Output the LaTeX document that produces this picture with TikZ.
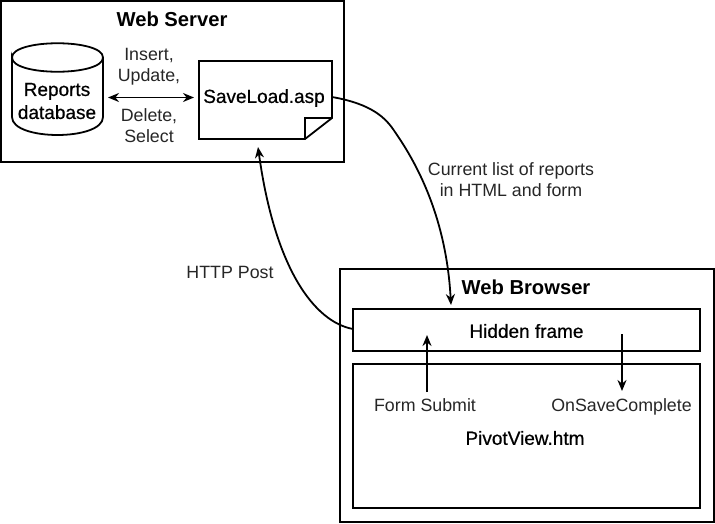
\documentclass[tikz,border=0pt]{standalone}
\usepackage{fontspec}
\setmainfont{Liberation Sans}
\usetikzlibrary{arrows.meta,positioning}
\tikzset{
  box/.style={draw=black,line width=1.8pt,inner sep=0pt,outer sep=0pt,fill=none},
  lbl/.style={inner sep=0pt,font=\fontsize{17.8}{20}\selectfont,text=black!85,align=center},
  blbl/.style={inner sep=0pt,font=\fontsize{20.2}{22}\selectfont\bfseries,align=center,text=black},
  mlbl/.style={inner sep=0pt,font=\fontsize{19}{22}\selectfont\addfontfeature{FakeBold=0.6},align=center,text=black},
  conn/.style={line width=1.8pt,-{Stealth[length=11pt,width=9pt]}},
  conn2/.style={line width=1.8pt,{Stealth[length=11pt,width=9pt]}-{Stealth[length=11pt,width=9pt]}},
}
\begin{document}
\begin{tikzpicture}[x=1pt,y=-1pt]
\useasboundingbox (0,0) rectangle (715,523);
% outer boxes
\node[box,minimum width=343pt,minimum height=161pt] (server) at (172.5,81.5) {};
\node[box,minimum width=374pt,minimum height=253pt] (browser) at (527,395.5) {};
\node[box,minimum width=347pt,minimum height=42pt] (hidden) at (526.5,330) {};
\node[box,minimum width=347pt,minimum height=144pt] (pivot) at (526.5,436) {};
% cylinder
\node[minimum width=91pt,minimum height=94pt,inner sep=0pt,outer sep=0pt] (db) at (57.5,89) {};
\draw[line width=1.8pt] (12,57.5) .. controls (12,38.5) and (103,38.5) .. (103,57.5)
   .. controls (103,76.5) and (12,76.5) .. (12,57.5) -- (12,117)
   .. controls (12,141) and (103,141) .. (103,117) -- (103,57.5);
% document
\node[minimum width=133pt,minimum height=78pt,inner sep=0pt,outer sep=0pt] (doc) at (265.5,100) {};
\draw[line width=1.8pt,line join=miter] (199,61) -- (332,61) -- (332,118) -- (305,139) -- (199,139) -- cycle;
\draw[line width=1.8pt] (332,118) -- (305,118) -- (305,139);
% labels
\node[blbl] (t1) at (172,19) {Web Server};
\node[blbl] (t2) at (526,287) {Web Browser};
\node[mlbl] (dbl) at (57,101) {Reports\\[1pt]database};
\node[mlbl] (docl) at (264,98) {SaveLoad.asp};
\node[lbl] (i1) at (149,67) {Insert,\\[1pt]Update,};
\node[lbl] (i2) at (149,126) {Delete,\\[1pt]Select};
\node[lbl] (cur) at (511,180) {Current list of reports\\[1pt]in HTML and form};
\node[lbl] (post) at (230,272) {HTTP Post};
\node[mlbl] (hf) at (526.5,331) {Hidden frame};
\node[lbl,anchor=base] (fs) at (425,411) {Form Submit};
\node[lbl,anchor=base] (osc) at (621.5,411) {OnSaveComplete};
\node[mlbl] (pv) at (525,438) {PivotView.htm};
% connector anchors
\coordinate (a1) at (108,97.5);
\coordinate (a2) at (194,97.5);
\coordinate (b1) at (332,97);
\coordinate (bm) at (395,132);
\coordinate (b2) at (451,305);
\coordinate (c1) at (353,329);
\coordinate (c2) at (258,147);
\coordinate (d1) at (427,392);
\coordinate (d2) at (427,335);
\coordinate (e1) at (622,334);
\coordinate (e2) at (622,391);
\draw[conn2] (a1) -- (a2);
\draw[conn] (b1) .. controls (372,104) and (386,118) .. (bm) .. controls (425,175) and (447,230) .. (b2);
\draw[conn] (c1) .. controls (315,322) and (275,270) .. (c2);
\draw[conn] (d1) -- (d2);
\draw[conn] (e1) -- (e2);
\end{tikzpicture}
\end{document}
